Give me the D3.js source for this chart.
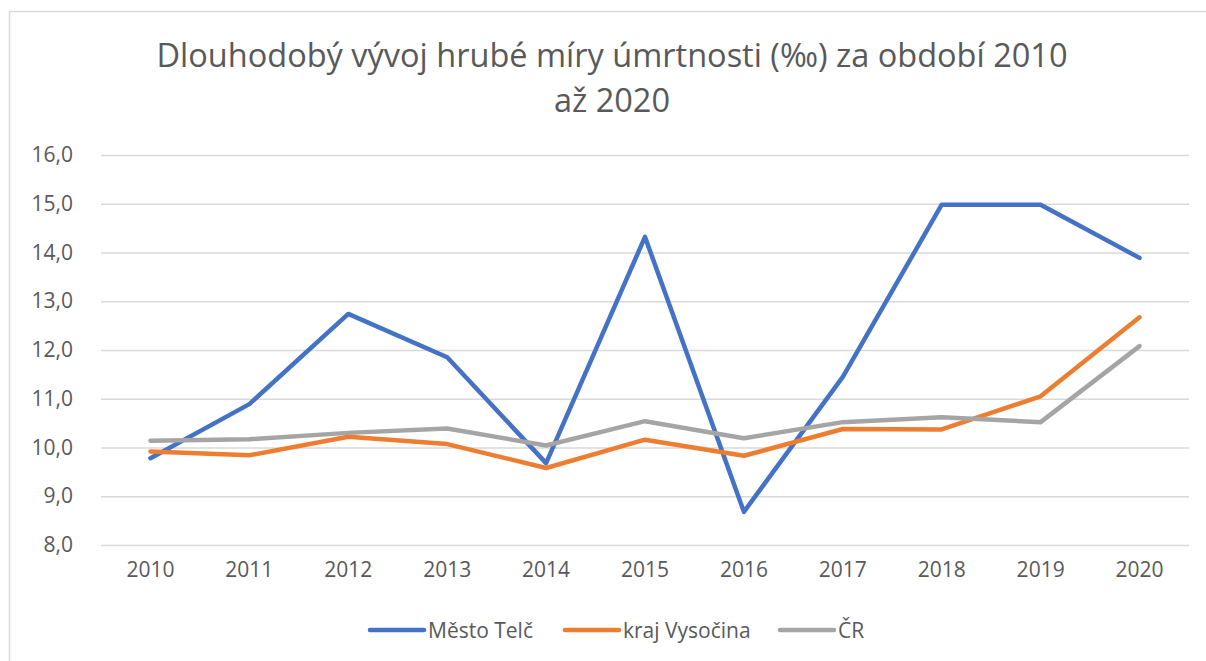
<!DOCTYPE html>
<html>
<head>
<meta charset="utf-8">
<script src="https://cdn.jsdelivr.net/npm/d3@7"></script>
<style>
  body { margin: 0; background: #fff; }
  text { font-family: "Open Sans", sans-serif; fill: #595959; }
</style>
</head>
<body>
<div id="chart"></div>
<script>
const ANCHO = 1206;
const ALTO = 661;

const roky = ["2010", "2011", "2012", "2013", "2014", "2015", "2016", "2017", "2018", "2019", "2020"];
const mestoTelc = [9.78, 10.89, 12.74, 11.85, 9.68, 14.32, 8.68, 11.45, 14.98, 14.98, 13.89];
const krajVysocina = [9.92, 9.84, 10.22, 10.07, 9.58, 10.16, 9.83, 10.38, 10.37, 11.05, 12.67];
const cr = [10.14, 10.17, 10.30, 10.39, 10.04, 10.54, 10.19, 10.52, 10.62, 10.52, 12.08];
const yTicks = [8, 9, 10, 11, 12, 13, 14, 15, 16];
const titulek = ["Dlouhodobý vývoj hrubé míry úmrtnosti (‰) za období 2010", "až 2020"];

const serie = [
  { nazev: "Město Telč", hodnoty: mestoTelc, barva: "#4472C4" },
  { nazev: "kraj Vysočina", hodnoty: krajVysocina, barva: "#ED7D31" },
  { nazev: "ČR", hodnoty: cr, barva: "#A5A5A5" }
];

const plocha = { left: 101, right: 1189, top: 155, bottom: 545 };

const $svg = d3.select("#chart").append("svg")
  .attr("width", ANCHO)
  .attr("height", ALTO);

// ramecek grafu
$svg.append("rect")
  .attr("x", 9.5).attr("y", 11.5)
  .attr("width", ANCHO + 20).attr("height", ALTO + 20)
  .attr("fill", "#fff")
  .attr("stroke", "#d9d9d9")
  .attr("stroke-width", 1.5);

// titulek - velikost pisma dopocitana podle sirky prvniho radku
const tt = $svg.append("text")
  .attr("text-anchor", "middle")
  .attr("font-size", 100)
  .text(titulek[0]);
const velikost = 100 * 911 / tt.node().getComputedTextLength();
tt.remove();
titulek.forEach((radek, i) => {
  $svg.append("text")
    .attr("x", 612)
    .attr("y", 67 + i * 45)
    .attr("text-anchor", "middle")
    .attr("font-size", velikost)
    .text(radek);
});

const x = d3.scaleBand()
  .domain(roky)
  .range([plocha.left, plocha.right]);

const y = d3.scaleLinear()
  .domain([8, 16])
  .range([plocha.bottom, plocha.top]);

const cz = d3.formatLocale({ decimal: ",", thousands: " ", grouping: [3], currency: ["", " Kč"] });
const fmt = cz.format(".1f");

// mrizka + popisky osy y
const osaY = $svg.append("g")
  .attr("transform", `translate(${plocha.left},0)`)
  .call(d3.axisLeft(y).tickValues(yTicks).tickFormat(fmt)
    .tickSize(-(plocha.right - plocha.left)).tickPadding(28));
osaY.select(".domain").remove();
osaY.selectAll(".tick line").attr("stroke", "#d9d9d9").attr("stroke-width", 1.5);
osaY.selectAll(".tick text")
  .attr("font-size", 21)
  .attr("font-family", "Open Sans")
  .attr("fill", "#595959");

// osa x
const osaX = $svg.append("g")
  .attr("transform", `translate(0,${plocha.bottom})`)
  .call(d3.axisBottom(x).tickSize(0).tickPadding(17));
osaX.select(".domain").remove();
osaX.selectAll(".tick text")
  .attr("font-size", 21)
  .attr("font-family", "Open Sans")
  .attr("fill", "#595959");

// cary
const cara = d3.line()
  .x((d, i) => x(roky[i]) + x.bandwidth() / 2)
  .y(d => y(d));

$svg.append("g").selectAll("path")
  .data(serie)
  .join("path")
  .attr("d", s => cara(s.hodnoty))
  .attr("fill", "none")
  .attr("stroke", s => s.barva)
  .attr("stroke-width", 4.5)
  .attr("stroke-linejoin", "round")
  .attr("stroke-linecap", "round");

// legenda
const legendaX = [370, 565, 780];
const legenda = $svg.append("g").selectAll("g")
  .data(serie)
  .join("g")
  .attr("transform", (s, i) => `translate(${legendaX[i]},630)`);
legenda.append("line")
  .attr("x1", 0).attr("x2", 54)
  .attr("stroke", s => s.barva)
  .attr("stroke-width", 4.5)
  .attr("stroke-linecap", "round");
legenda.append("text")
  .attr("x", 58)
  .attr("y", 7.5)
  .attr("font-size", 21)
  .text(s => s.nazev);
</script>
</body>
</html>
